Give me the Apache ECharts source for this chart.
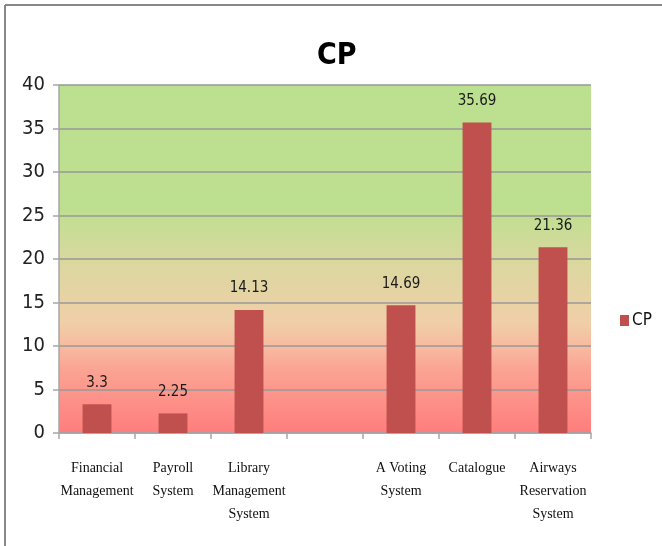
<!DOCTYPE html>
<html>
<head>
<meta charset="utf-8">
<style>
  html, body { margin: 0; padding: 0; background: #ffffff; }
  #chart { width: 662px; height: 546px; }
</style>
<script src="https://cdn.jsdelivr.net/npm/echarts@6/dist/echarts.min.js"></script>
</head>
<body>
<div id="chart"></div>
<script>
// Project names along the category axis (one slot is left blank)
const categories = [
  'Financial\nManagement',
  'Payroll\nSystem',
  'Library\nManagement\nSystem',
  '',
  'A Voting\nSystem',
  'Catalogue',
  'Airways\nReservation\nSystem'
];
// CP value per project ('-' = no bar)
const cpValues = [3.3, 2.25, 14.13, '-', 14.69, 35.69, 21.36];
const seriesName = 'CP';
const yTicks = { min: 0, max: 40, interval: 5 };

const narrow = '"Liberation Sans Narrow", "DejaVu Sans Condensed", sans-serif';
const serif = '"Liberation Serif", "DejaVu Serif", serif';

const chart = echarts.init(document.getElementById('chart'), null, { renderer: 'canvas' });

chart.setOption({
  backgroundColor: '#ffffff',
  animation: false,
  title: {
    text: 'CP',
    left: 312,
    top: 36,
    textStyle: { fontFamily: narrow, fontSize: 30, fontWeight: 'bold', color: '#000000' }
  },
  legend: {
    data: [seriesName],
    left: 615,
    top: 307,
    orient: 'vertical',
    icon: 'rect',
    itemWidth: 9,
    itemHeight: 11,
    itemGap: 4,
    textStyle: { fontFamily: narrow, fontSize: 17, color: '#111111', padding: [0, 0, 0, -2] }
  },
  grid: {
    left: 59,
    top: 85,
    width: 532,
    height: 348,
    show: true,
    borderWidth: 0,
    backgroundColor: new echarts.graphic.LinearGradient(0, 0, 0, 1, [
      { offset: 0, color: '#BBE08F' },
      { offset: 0.36, color: '#BEDF90' },
      { offset: 0.52, color: '#DCD7A0' },
      { offset: 0.68, color: '#F0CFA8' },
      { offset: 0.75, color: '#F7BBA0' },
      { offset: 0.82, color: '#FBA393' },
      { offset: 1, color: '#FF7D7D' }
    ])
  },
  xAxis: {
    type: 'category',
    data: categories,
    boundaryGap: true,
    axisLine: { show: true, lineStyle: { color: '#a6a6a6', width: 1.5 } },
    axisTick: { show: true, length: 6, lineStyle: { color: '#a6a6a6', width: 1.5 } },
    axisLabel: {
      interval: 0,
      margin: 24,
      fontFamily: serif,
      fontSize: 14,
      lineHeight: 23,
      color: '#111111'
    }
  },
  yAxis: {
    type: 'value',
    min: yTicks.min,
    max: yTicks.max,
    interval: yTicks.interval,
    axisLine: { show: true, lineStyle: { color: '#a6a6a6', width: 1.5 } },
    axisTick: { show: true, length: 6, lineStyle: { color: '#a6a6a6', width: 1.5 } },
    axisLabel: { margin: 14, fontFamily: narrow, fontSize: 20, color: '#222222' },
    splitLine: { show: true, lineStyle: { color: '#999999', width: 1.5 } }
  },
  series: [{
    name: seriesName,
    type: 'bar',
    data: cpValues,
    barWidth: '38%',
    itemStyle: { color: '#C0504D' },
    label: {
      show: true,
      position: 'top',
      distance: 14,
      fontFamily: narrow,
      fontSize: 15,
      color: '#1a1a1a'
    }
  }],
  graphic: [
    { type: 'line', shape: { x1: 5, y1: 5, x2: 662, y2: 5 }, style: { stroke: '#888888', lineWidth: 2 }, silent: true },
    { type: 'line', shape: { x1: 5, y1: 5, x2: 5, y2: 546 }, style: { stroke: '#888888', lineWidth: 2 }, silent: true }
  ]
});
</script>
</body>
</html>
